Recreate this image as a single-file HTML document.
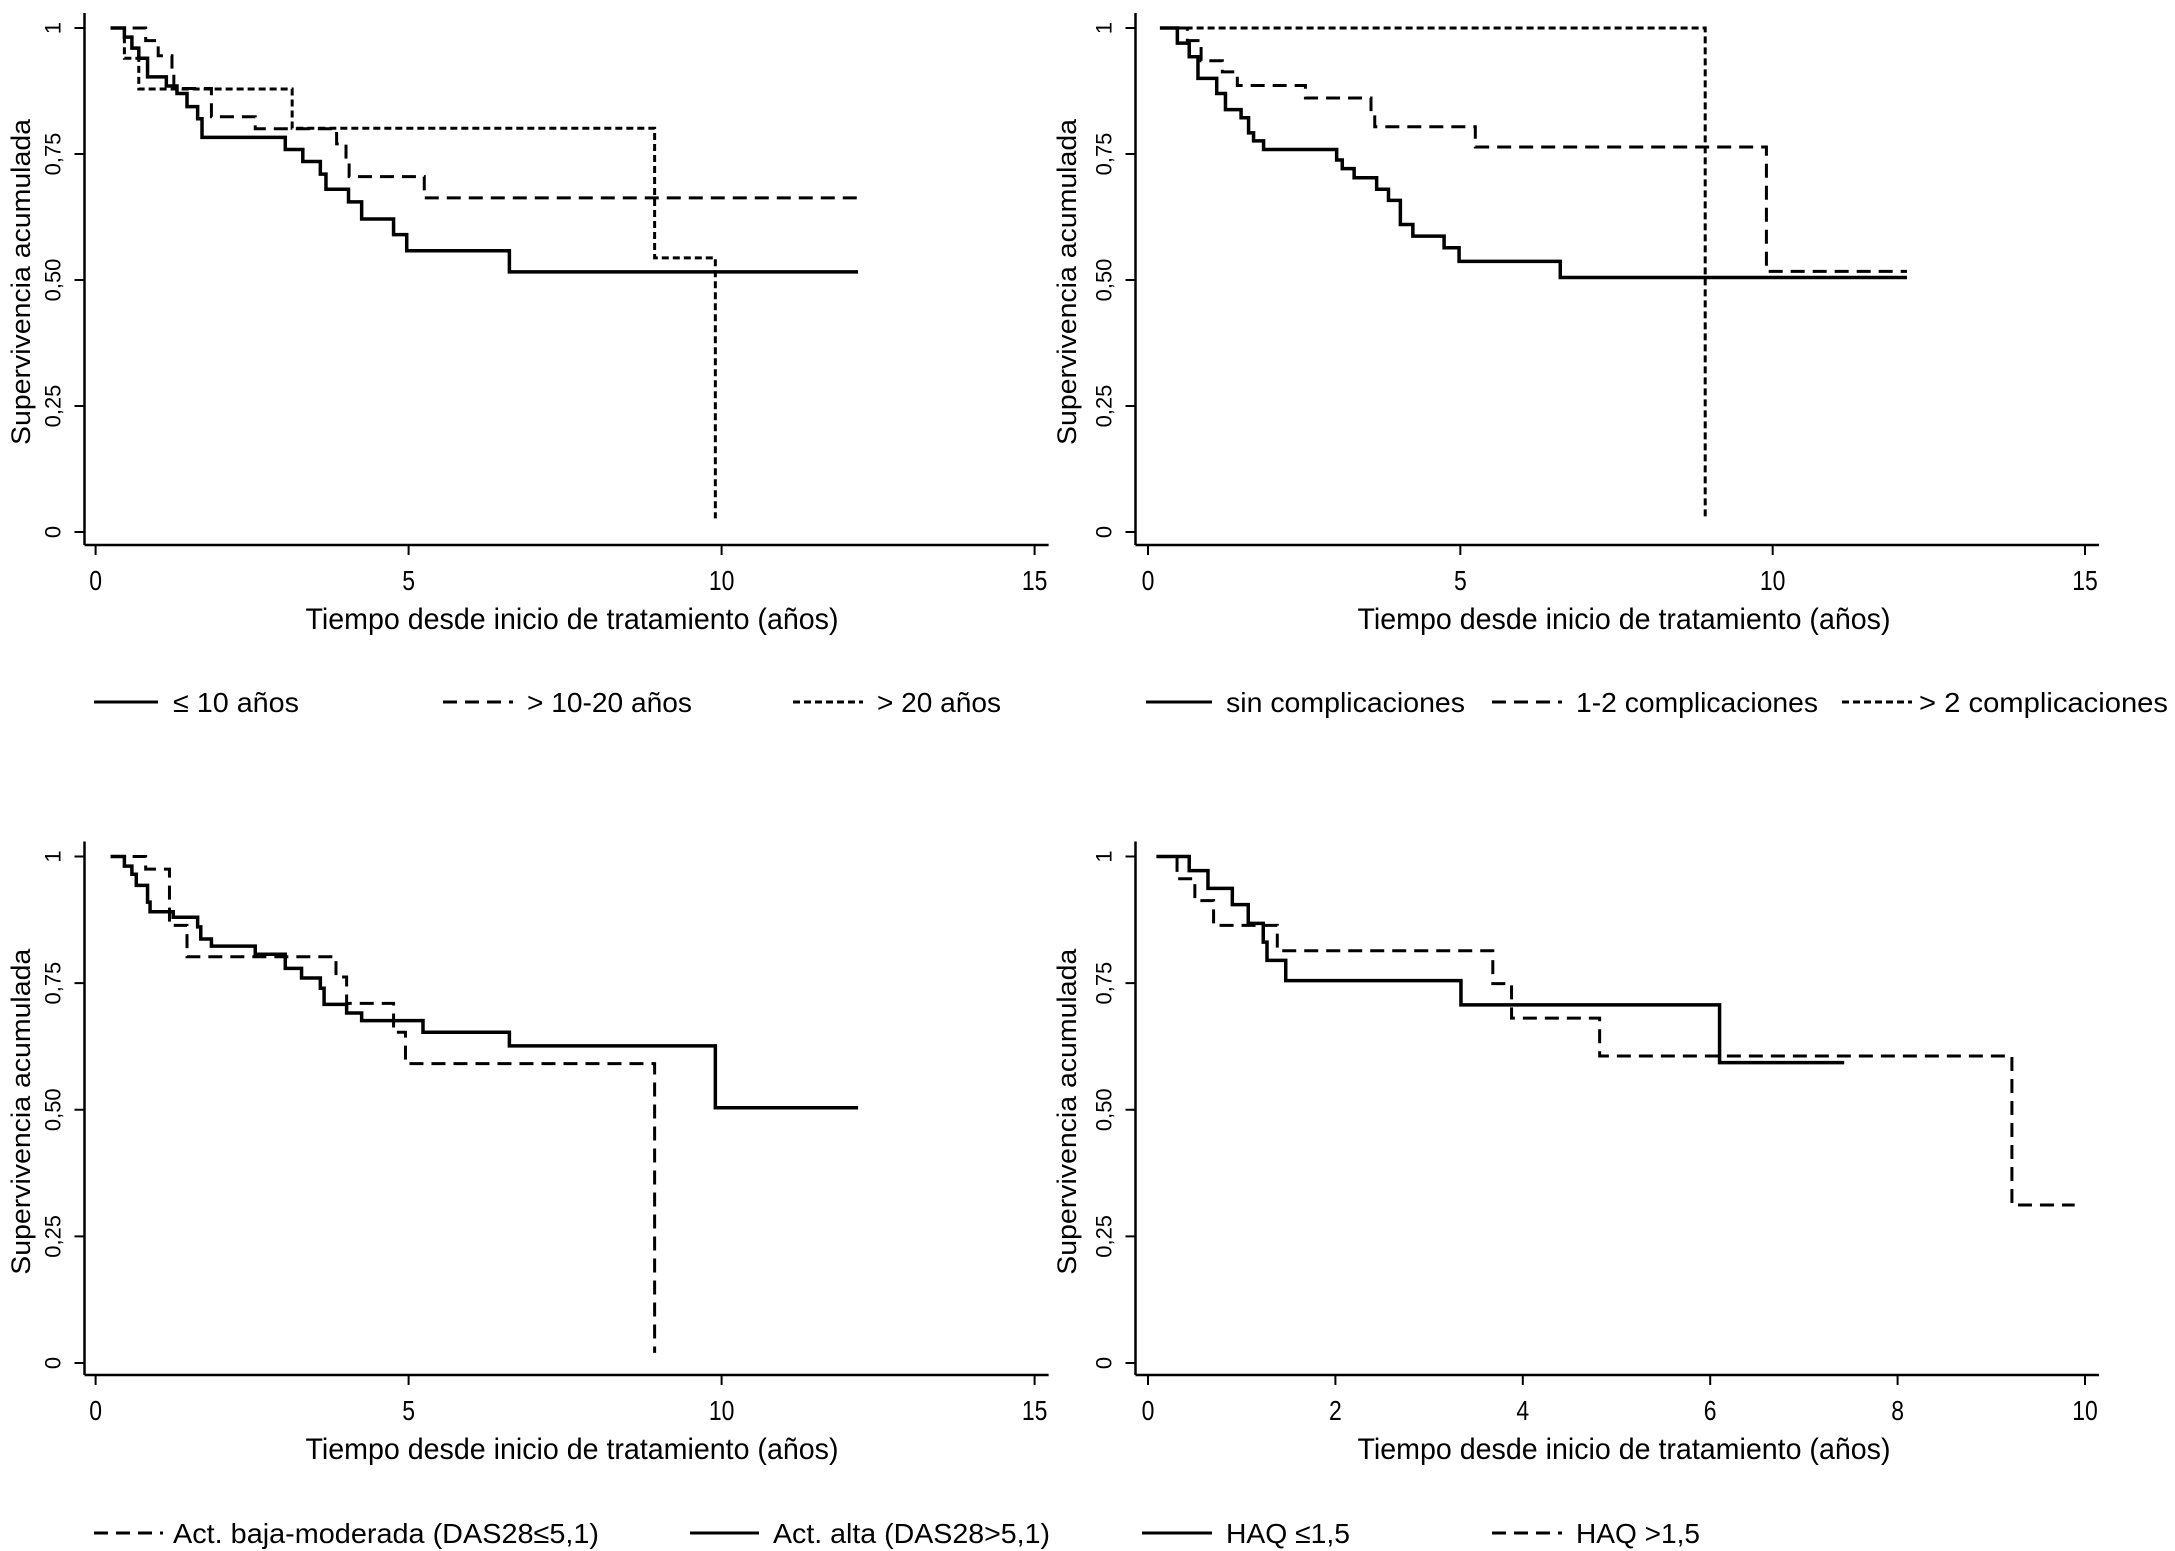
<!DOCTYPE html>
<html><head><meta charset="utf-8"><style>
html,body{margin:0;padding:0;background:#fff;}
svg{display:block;}
text{font-family:"Liberation Sans","DejaVu Sans",sans-serif;fill:#000;}
</style></head><body>
<svg id="fig" width="2175" height="1551" viewBox="0 0 2175 1551" xmlns="http://www.w3.org/2000/svg"></svg>
<script>
// ---------- data ----------
// Panel A: age groups
const aSolidT = [0.24,0.46,0.58,0.69,0.83,1.13,1.30,1.46,1.63,1.70,3.03,3.31,3.59,3.68,4.04,4.25,4.76,4.97,6.61,12.18];
const aSolidS = [1,0.982,0.96,0.94,0.903,0.885,0.87,0.844,0.82,0.783,0.759,0.735,0.71,0.68,0.655,0.621,0.59,0.558,0.516,0.516];
const aDashT = [0.24,0.80,1.00,1.22,1.25,1.85,2.55,3.85,4.00,4.05,5.25,12.18];
const aDashS = [1,0.975,0.945,0.915,0.88,0.824,0.80,0.77,0.74,0.705,0.663,0.663];
const aShortT = [0.24,0.46,0.69,3.14,8.93,9.90];
const aShortS = [1,0.94,0.879,0.801,0.544,0.027];
// Panel B: complications
const bSolidT = [0.19,0.47,0.66,0.80,1.10,1.24,1.49,1.61,1.69,1.85,3.02,3.11,3.30,3.66,3.85,4.04,4.24,4.74,4.98,6.60,12.15];
const bSolidS = [1,0.97,0.943,0.90,0.87,0.838,0.822,0.792,0.776,0.759,0.738,0.721,0.703,0.68,0.658,0.61,0.587,0.564,0.537,0.505,0.505];
const bDashT = [0.45,0.63,0.85,1.19,1.43,2.52,3.57,3.63,5.24,9.90,12.15];
const bDashS = [1,0.975,0.935,0.913,0.886,0.861,0.83,0.804,0.764,0.517,0.517];
const bShortT = [0.25,8.92];
const bShortS = [1,0.025];
// Panel C: DAS28
const cSolidT = [0.24,0.46,0.58,0.65,0.83,0.87,1.24,1.63,1.68,1.85,2.55,3.03,3.29,3.59,3.65,4.01,4.25,5.23,6.61,9.90,12.18];
const cSolidS = [1,0.981,0.965,0.943,0.91,0.891,0.88,0.861,0.837,0.823,0.807,0.779,0.76,0.74,0.708,0.691,0.676,0.653,0.626,0.504,0.504];
const cDashT = [0.24,0.80,1.18,1.46,3.84,4.01,4.76,4.95,8.93];
const cDashS = [1,0.975,0.864,0.802,0.762,0.71,0.653,0.591,0.02];
// Panel D: HAQ
const dSolidT = [0.09,0.44,0.64,0.90,1.07,1.23,1.27,1.47,3.34,6.10,7.43];
const dSolidS = [1,0.972,0.937,0.905,0.868,0.831,0.795,0.755,0.707,0.593,0.593];
const dDashT = [0.09,0.31,0.50,0.70,1.38,3.68,3.88,4.82,9.22,9.89];
const dDashS = [1,0.956,0.913,0.864,0.814,0.749,0.681,0.606,0.312,0.312];

const yTicks = [0,0.25,0.5,0.75,1];
const yTickLabels = ["0","0,25","0,50","0,75","1"];
const xTicks15 = [0,5,10,15];
const xTicks10 = [0,2,4,6,8,10];
const xTitle = "Tiempo desde inicio de tratamiento (años)";
const yTitle = "Supervivencia acumulada";

const NS = "http://www.w3.org/2000/svg";
const svg = document.getElementById("fig");
function mk(tag, attrs, parent){
  const e = document.createElementNS(NS, tag);
  for (const k in attrs) e.setAttribute(k, attrs[k]);
  (parent||svg).appendChild(e);
  return e;
}
const DASH = "14 8", SHORT = "7 4";

function panel(p){
  const g = mk("g", {});
  
  
  const xs = v => p.x0 + (v - p.xmin) / (p.xmax - p.xmin) * (p.x1 - p.x0);
  const ys = v => p.y0 + v * (p.y1 - p.y0);
  // axes
  const ya = mk("line", {x1:p.ax, y1:p.y1-15, x2:p.ax, y2:p.axy, stroke:"#000","stroke-width":2.5}, g);
  
  
  const xa = mk("line", {x1:p.ax, y1:p.axy, x2:p.x1+14, y2:p.axy, stroke:"#000","stroke-width":2.5}, g);
  
  
  yTicks.forEach((v,i)=>{
    const y = ys(v);
    mk("line",{x1:p.ax-10,y1:y,x2:p.ax,y2:y,stroke:"#000","stroke-width":2},g);
    const t = mk("text",{x:0,y:0,"font-size":22,"text-anchor":"middle",transform:`translate(${p.ax-24},${y}) rotate(-90)`},g);
    t.textContent = yTickLabels[i];
    
    
  });
  p.xt.forEach(v=>{
    const x = xs(v);
    mk("line",{x1:x,y1:p.axy,x2:x,y2:p.axy+10,stroke:"#000","stroke-width":2},g);
    const t = mk("text",{x:x,y:p.axy+45,"font-size":28,"text-anchor":"middle",transform:`translate(${x*0.18},0) scale(0.82,1)`},g);
    t.setAttribute("x", x/0.82 - x*0.18/0.82);
    t.textContent = String(v);
    
    
  });
  const xt = mk("text",{x:p.xtx,y:p.axy+84,"font-size":30,"text-anchor":"middle",textLength:533,lengthAdjust:"spacingAndGlyphs"},g);
  xt.textContent = xTitle;
  
  
  const yt = mk("text",{x:0,y:0,"font-size":27,"text-anchor":"middle",textLength:326,lengthAdjust:"spacingAndGlyphs",transform:`translate(${p.ytx},${(p.y0+p.y1)/2+2}) rotate(-90)`},g);
  yt.textContent = yTitle;
  
  
  // series
  p.series.forEach(s=>{
    let d = "M" + xs(s.t[0]) + " " + ys(s.s[0]);
    for (let i=1;i<s.t.length;i++){
      d += " H" + xs(s.t[i]) + " V" + ys(s.s[i]);
    }
    const path = mk("path",{d:d,fill:"none",stroke:"#000","stroke-width":s.dash?3:3.5,"stroke-dasharray":s.dash||"none"},g);
    
    
  });
  // legend
  p.legend.forEach(l=>{
    const ln = mk("line",{x1:l.lx0,y1:p.legy,x2:l.lx1,y2:p.legy,stroke:"#000","stroke-width":3,"stroke-dasharray":l.dash||"none"},g);
    
    
    const t = mk("text",{x:l.tx,y:p.legy+10,"font-size":28,textLength:l.tw,lengthAdjust:"spacingAndGlyphs"},g);
    t.textContent = l.text;
    
    
  });
}

panel({name:"panel-age", ax:84.5, axy:545, x0:95.6, x1:1034.6, xmin:0, xmax:15, y0:532, y1:28, xt:xTicks15, xtx:572, ytx:30, legy:702,
  series:[{name:"line-age-le10",t:aSolidT,s:aSolidS},{name:"line-age-10-20",t:aDashT,s:aDashS,dash:DASH},{name:"line-age-gt20",t:aShortT,s:aShortS,dash:SHORT}],
  legend:[{lx0:94,lx1:158,tx:173,tw:126,text:"≤ 10 años"},{lx0:443,lx1:513,tx:527,tw:165,text:"> 10-20 años",dash:DASH},{lx0:793,lx1:863,tx:877,tw:124,text:"> 20 años",dash:SHORT}]});

panel({name:"panel-complications", ax:1135.5, axy:545, x0:1148, x1:2085, xmin:0, xmax:15, y0:532, y1:28, xt:xTicks15, xtx:1624, ytx:1076, legy:702,
  series:[{name:"line-sin-complicaciones",t:bSolidT,s:bSolidS},{name:"line-1-2-complicaciones",t:bDashT,s:bDashS,dash:DASH},{name:"line-gt2-complicaciones",t:bShortT,s:bShortS,dash:SHORT}],
  legend:[{lx0:1146,lx1:1212,tx:1226,tw:239,text:"sin complicaciones"},{lx0:1492,lx1:1562,tx:1576,tw:242,text:"1-2 complicaciones",dash:DASH},{lx0:1842,lx1:1912,tx:1919,tw:249,text:"> 2 complicaciones",dash:SHORT}]});

panel({name:"panel-das28", ax:84.5, axy:1375, x0:95.6, x1:1034.6, xmin:0, xmax:15, y0:1363, y1:856.5, xt:xTicks15, xtx:572, ytx:30, legy:1533,
  series:[{name:"line-act-alta",t:cSolidT,s:cSolidS},{name:"line-act-baja-moderada",t:cDashT,s:cDashS,dash:DASH}],
  legend:[{lx0:94,lx1:163,tx:173,tw:426,text:"Act. baja-moderada (DAS28≤5,1)",dash:DASH},{lx0:690,lx1:759,tx:773,tw:277,text:"Act. alta (DAS28>5,1)"}]});

panel({name:"panel-haq", ax:1135.5, axy:1375, x0:1148, x1:2085, xmin:0, xmax:10, y0:1363, y1:856.5, xt:xTicks10, xtx:1624, ytx:1076, legy:1533,
  series:[{name:"line-haq-le1-5",t:dSolidT,s:dSolidS},{name:"line-haq-gt1-5",t:dDashT,s:dDashS,dash:DASH}],
  legend:[{lx0:1142,lx1:1212,tx:1226,tw:124,text:"HAQ ≤1,5"},{lx0:1492,lx1:1562,tx:1576,tw:124,text:"HAQ >1,5",dash:DASH}]});
</script>
</body></html>
